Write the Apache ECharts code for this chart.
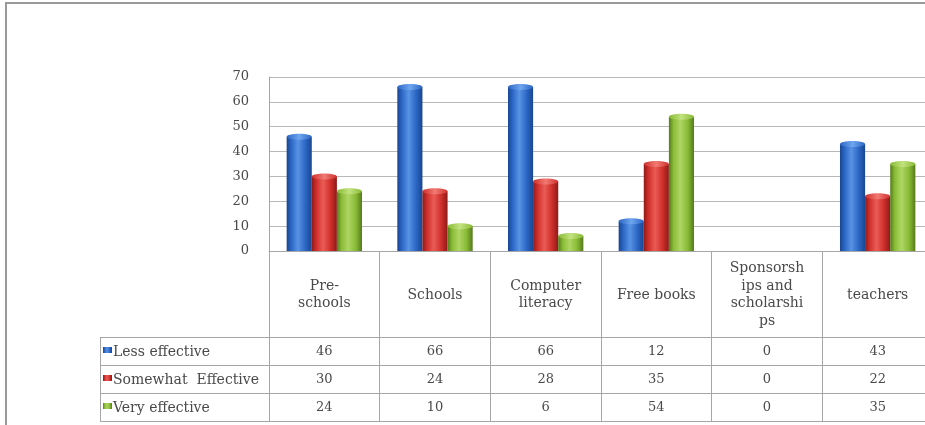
<!DOCTYPE html>
<html>
<head>
<meta charset="utf-8">
<script src="https://cdn.jsdelivr.net/npm/echarts@6/dist/echarts.min.js"></script>
<style>
  html, body { margin: 0; padding: 0; background: #fff; overflow: hidden; }
  #chart { width: 940px; height: 425px; }
</style>
</head>
<body>
<div id="chart"></div>
<script>
// Category labels (line breaks follow the narrow table columns)
const categories = ['Pre-\nschools', 'Schools', 'Computer\nliteracy', 'Free books', 'Sponsorsh\nips and\nscholarshi\nps', 'teachers'];
const seriesNames = ['Less effective', 'Somewhat  Effective', 'Very effective'];
const lessEffective = [46, 66, 66, 12, 0, 43];
const somewhatEffective = [30, 24, 28, 35, 0, 22];
const veryEffective = [24, 10, 6, 54, 0, 35];
const yTicks = [0, 10, 20, 30, 40, 50, 60, 70];

const seriesValues = [lessEffective, somewhatEffective, veryEffective];

// Glossy column shading: edge, body, highlight, cap
const palettes = [
  { edge: '#1a4690', body: '#2b66c4', light: '#5893e4', cap: '#6fa6ef' },
  { edge: '#8e1a18', body: '#cf2f2b', light: '#ea5c56', cap: '#f27a74' },
  { edge: '#557b1c', body: '#89bb35', light: '#aed664', cap: '#c2e27f' }
];

const FONT = 'DejaVu Serif';
const TEXT = '#4a4a4a';
const LINE = '#a6a6a6';

function shade(p) {
  return new echarts.graphic.LinearGradient(0, 0, 1, 0, [
    { offset: 0, color: p.edge },
    { offset: 0.18, color: p.body },
    { offset: 0.45, color: p.light },
    { offset: 0.75, color: p.body },
    { offset: 1, color: p.edge }
  ]);
}

function makeSeries(si) {
  const p = palettes[si];
  return {
    type: 'custom',
    name: seriesNames[si],
    data: seriesValues[si].map((v, i) => [i, v]),
    renderItem: function (params, api) {
      const idx = api.value(0);
      const val = api.value(1);
      if (!val) return null;
      const band = api.size([1, 0])[0];
      const bw = band * 0.227;
      const center = api.coord([idx, 0]);
      const top = api.coord([idx, val]);
      const x = center[0] - 1.5 * bw + si * bw;
      const base = center[1];
      return {
        type: 'group',
        children: [
          {
            type: 'rect',
            shape: { x: x, y: top[1], width: bw, height: base - top[1] },
            style: { fill: shade(p) }
          },
          {
            type: 'ellipse',
            shape: { cx: x + bw / 2, cy: top[1], rx: bw / 2, ry: 3 },
            style: {
              fill: new echarts.graphic.LinearGradient(0, 0, 1, 0, [
                { offset: 0, color: p.body },
                { offset: 0.5, color: p.cap },
                { offset: 1, color: p.body }
              ])
            }
          }
        ]
      };
    }
  };
}

const chart = echarts.init(document.getElementById('chart'), null, { renderer: 'canvas' });

const option = {
  backgroundColor: '#ffffff',
  animation: false,
  grid: { left: 269, top: 77, width: 664, height: 174, containLabel: false },
  xAxis: {
    type: 'category',
    data: categories,
    boundaryGap: true,
    axisLine: { show: true, lineStyle: { color: LINE, width: 1 } },
    axisTick: { show: true, length: 170, lineStyle: { color: LINE } },
    axisLabel: {
      interval: 0,
      margin: 44,
      verticalAlign: 'middle',
      lineHeight: 17.5,
      fontFamily: FONT,
      fontSize: 14,
      color: TEXT
    }
  },
  yAxis: {
    type: 'value',
    min: yTicks[0],
    max: yTicks[yTicks.length - 1],
    interval: 10,
    axisLine: { show: true, lineStyle: { color: LINE } },
    axisTick: { show: false },
    axisLabel: { margin: 20, fontFamily: FONT, fontSize: 13, color: TEXT },
    splitLine: { lineStyle: { color: '#b8b8b8', width: 1 } }
  },
  series: [makeSeries(0), makeSeries(1), makeSeries(2)]
};

chart.setOption(option);

// Data table under the axis: legend column plus one value per category
const rowTops = [337, 365, 393];
const rowBottom = 421;
const tableLeft = 100;
const g = [];

// Chart frame
g.push({ type: 'rect', shape: { x: 6, y: 3, width: 960, height: 440 },
  style: { fill: null, stroke: '#9a9a9a', lineWidth: 2 } });

// Horizontal row lines
rowTops.concat([rowBottom]).forEach(y => {
  g.push({ type: 'line', shape: { x1: tableLeft, y1: y + 0.5, x2: 940, y2: y + 0.5 },
    style: { stroke: LINE, lineWidth: 1 } });
});
// Left border of legend column
g.push({ type: 'line', shape: { x1: tableLeft + 0.5, y1: rowTops[0], x2: tableLeft + 0.5, y2: rowBottom },
  style: { stroke: LINE, lineWidth: 1 } });

function rowCenter(si) {
  return (rowTops[si] + (si < 2 ? rowTops[si + 1] : rowBottom)) / 2;
}

// Legend keys and names
seriesNames.forEach((name, si) => {
  const p = palettes[si];
  const cy = rowCenter(si);
  g.push({ type: 'rect', shape: { x: 103, y: cy - 4, width: 9, height: 6 },
    style: { fill: shade(p) } });
  g.push({ type: 'text', x: 113, y: cy + 1, style: {
    text: name, font: '14px "' + FONT + '"', fill: TEXT, verticalAlign: 'middle', align: 'left' } });
});

// Values per category
seriesValues.forEach((vals, si) => {
  const cy = rowCenter(si);
  vals.forEach((v, ci) => {
    const px = chart.convertToPixel({ xAxisIndex: 0 }, ci);
    g.push({ type: 'text', x: px, y: cy + 1, style: {
      text: String(v), font: '13px "' + FONT + '"', fill: TEXT, align: 'center', verticalAlign: 'middle' } });
  });
});

chart.setOption({ graphic: { elements: g.map(e => Object.assign({ silent: true, z: 10 }, e)) } });
</script>
</body>
</html>
